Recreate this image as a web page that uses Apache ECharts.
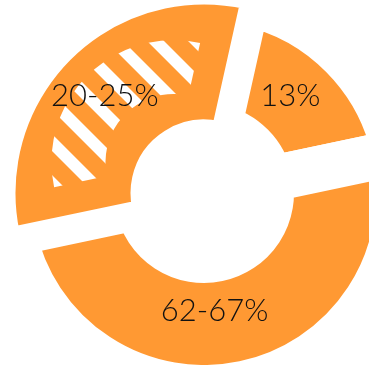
<!DOCTYPE html>
<html>
<head>
<meta charset="utf-8">
<script src="https://cdn.jsdelivr.net/npm/echarts@6/dist/echarts.min.js"></script>
<style>
  html, body { margin: 0; padding: 0; background: #fff; }
  #chart { width: 369px; height: 365px; }
</style>
</head>
<body>
<div id="chart"></div>
<script>
// slice labels and their share of the ring
var labels = ['13%', '62-67%', '20-25%'];
var shares = [18.2, 50, 31.8];
var hatched = '20-25%';   // the slice drawn with white stripes

var ORANGE = '#ff9933';
var START = 77.4;
var ringCenter = [204, 193];
var hatchCenter = [173.5, 162.1];   // stripe area sits inset inside the hatched slice
var labelNudge = [[-9, -3], [-17, -13], [-5, -2]];

var chart = echarts.init(document.getElementById('chart'));

var ringData = labels.map(function (name, i) {
    var thin = name === hatched;
    return {
        name: name,
        value: shares[i],
        itemStyle: {
            color: ORANGE,
            borderColor: '#fff',
            borderWidth: thin ? 13 : 46     // gaps between the slices
        }
    };
});

var hatchData = labels.map(function (name, i) {
    var item = { name: name, value: shares[i], itemStyle: { color: 'transparent', borderWidth: 0 } };
    if (name === hatched) {
        item.itemStyle.decal = {
            symbol: 'rect',
            color: '#fff',
            dashArrayX: [1, 0],
            dashArrayY: [12, 17],
            rotation: Math.PI / 4
        };
    }
    return item;
});

var textData = labels.map(function (name, i) {
    return { name: name, value: shares[i], itemStyle: { color: 'transparent', borderWidth: 0 } };
});

chart.setOption({
    animation: false,
    series: [
        {
            type: 'pie',
            z: 2,
            silent: true,
            center: ringCenter,
            radius: [67, 195],
            startAngle: START,
            clockwise: true,
            label: { show: false },
            labelLine: { show: false },
            data: ringData
        },
        {
            type: 'pie',
            z: 3,
            silent: true,
            center: hatchCenter,
            radius: [68, 122],
            startAngle: START,
            clockwise: true,
            label: { show: false },
            labelLine: { show: false },
            data: hatchData
        },
        {
            type: 'pie',
            z: 4,
            silent: true,
            center: ringCenter,
            radius: [67, 195],
            startAngle: START,
            clockwise: true,
            label: {
                show: true,
                position: 'inside',
                formatter: '{b}',
                color: '#111',
                fontFamily: 'Lato',
                fontWeight: 300,
                fontSize: 31
            },
            labelLine: { show: false },
            labelLayout: function (params) {
                var n = labelNudge[params.dataIndex];
                return { dx: n[0], dy: n[1] };
            },
            data: textData
        }
    ]
});
</script>
</body>
</html>
